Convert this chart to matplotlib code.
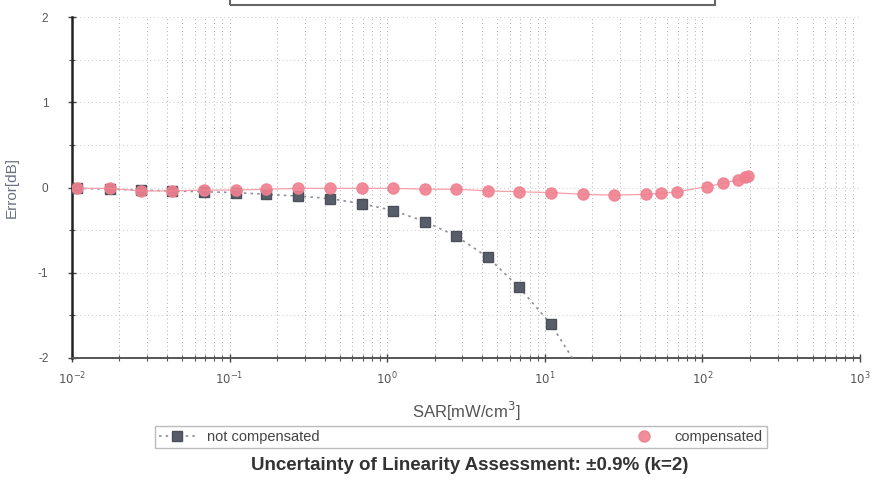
import matplotlib
matplotlib.use("Agg")
import matplotlib.pyplot as plt
from matplotlib.patches import Rectangle
from matplotlib.ticker import LogLocator, NullFormatter, FixedLocator

plt.rcParams['font.family'] = ['Liberation Sans', 'DejaVu Sans']

# SAR values (mW/cm^3)
sar = [0.0108, 0.0174, 0.0274, 0.0432, 0.0689, 0.110, 0.170, 0.272, 0.434, 0.692,
       1.09, 1.74, 2.74, 4.36, 6.86, 10.9, 17.5, 27.5, 43.9, 54.6, 69.0,
       107, 135, 168, 186, 195]
compensated = [-0.01, -0.01, -0.04, -0.04, -0.03, -0.03, -0.02, -0.01, -0.01, -0.01,
               -0.01, -0.02, -0.02, -0.04, -0.05, -0.06, -0.08, -0.09, -0.08, -0.07, -0.05,
               0.01, 0.05, 0.09, 0.12, 0.13]
sar_nc = [0.0108, 0.0174, 0.0274, 0.0432, 0.0689, 0.110, 0.170, 0.272, 0.434, 0.692,
          1.09, 1.74, 2.74, 4.36, 6.86, 10.9, 17.5]
not_compensated = [-0.01, -0.02, -0.03, -0.04, -0.05, -0.06, -0.08, -0.10, -0.13, -0.19,
                   -0.27, -0.40, -0.57, -0.82, -1.17, -1.60, -2.20]

xticks = [1e-2, 1e-1, 1e0, 1e1, 1e2, 1e3]
xticklabels = [r'$10^{-2}$', r'$10^{-1}$', r'$10^{0}$', r'$10^{1}$', r'$10^{2}$', r'$10^{3}$']
yticks = [-2, -1, 0, 1, 2]
yticklabels = ['-2', '-1', '0', '1', '2']

fig = plt.figure(figsize=(8.74, 4.83), dpi=100)
ax = fig.add_axes([0.0824, 0.2588, 0.9016, 0.706])

ax.set_xscale('log')
ax.set_xlim(1e-2, 1e3)
ax.set_ylim(-2, 2)

ax.plot(sar_nc, not_compensated, color='#8a8f98', linestyle=(0, (1.5, 2.5)), linewidth=1.2,
        marker='s', markersize=7, markerfacecolor='#585d6a', markeredgecolor='#4a4f5a',
        label='not compensated', zorder=3, clip_on=True)
ax.plot(sar, compensated, color='#f4a0aa', linestyle='-', linewidth=0.9, zorder=4)
ax.plot(sar, compensated, linestyle='none', marker='o', markersize=8,
        markerfacecolor='#f0808f', markeredgecolor='#f0808f', alpha=0.9,
        label='compensated', zorder=5)

ax.set_xticks(xticks)
ax.set_xticklabels(xticklabels)
ax.xaxis.set_minor_locator(LogLocator(base=10, subs=range(2, 10)))
ax.xaxis.set_minor_formatter(NullFormatter())
ax.set_yticks(yticks)
ax.set_yticklabels(yticklabels)
ax.yaxis.set_minor_locator(FixedLocator([-1.5, -0.5, 0.5, 1.5]))

ax.grid(True, which='both', axis='x', color='#b0b0b0', linestyle=(0, (1, 3)), linewidth=0.7)
ax.grid(True, which='both', axis='y', color='#c8c8c8', linestyle=(0, (1, 3)), linewidth=0.7)
ax.set_axisbelow(True)

for s in ['top', 'right']:
    ax.spines[s].set_visible(False)
ax.spines['left'].set_color('#222222')
ax.spines['left'].set_linewidth(1.8)
ax.spines['bottom'].set_color('#555555')
ax.spines['bottom'].set_linewidth(1.4)

ax.tick_params(axis='both', which='major', direction='inout', length=6, width=1,
               colors='#444444', labelsize=8.5, labelcolor='#555555')
ax.tick_params(axis='both', which='minor', direction='inout', length=4, width=0.8,
               colors='#555555')
ax.tick_params(axis='x', pad=6)
ax.tick_params(axis='y', pad=14)

ax.set_ylabel('Error[dB]', fontsize=11, color='#6a7080', labelpad=14)
ax.set_xlabel('SAR[mW/cm$^3$]', fontsize=12, color='#555555', labelpad=9)

leg = fig.legend(loc='center', bbox_to_anchor=(0.527, 0.095), ncol=2, frameon=True,
                 fontsize=10.5, columnspacing=21, handlelength=2.5, borderpad=0.3,
                 fancybox=False, edgecolor='#aaaaaa')
for t in leg.get_texts():
    t.set_color('#444444')

fig.text(0.537, 0.036, 'Uncertainty of Linearity Assessment: \u00b10.9% (k=2)',
         ha='center', va='center', fontsize=13.5, fontweight='bold', color='#333333')

# partial box of the element above (cropped at top edge)
fig.patches.append(Rectangle((0.263, 0.99), 0.555, 0.03, transform=fig.transFigure,
                             fill=False, edgecolor='#666666', linewidth=1.5))

fig.savefig('out.png', dpi=100)
